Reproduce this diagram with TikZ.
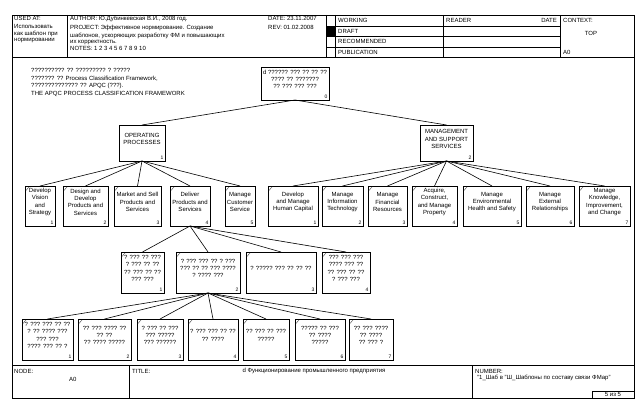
\documentclass[tikz,border=0pt]{standalone}
\usepackage{fontspec}
\setmainfont{Liberation Sans}
\tikzset{
  frame/.style={line width=0.7pt},
  boxst/.style={draw, line width=0.7pt, inner sep=0pt, outer sep=0pt, fill=white},
  txt/.style={font=\fontsize{6}{7.3}\selectfont, align=center, inner sep=0pt},
  numst/.style={font=\fontsize{5}{5}\selectfont, anchor=east, inner sep=0pt},
  tickst/.style={line width=0.4pt, black!70},
  link/.style={line width=0.6pt},
  hd/.style={font=\fontsize{6}{7}\selectfont, anchor=west, inner sep=0pt},
}
\newcommand\tbox[7]{%
  \node[boxst, minimum width={#4-#2}, minimum height={#5-#3}] (#1) at ({(#2+#4)/2},{(#3+#5)/2}) {};
  \node[txt] (#1t) at ([yshift=4pt]#1.center) {#6};
  \node[numst] (#1n) at ([xshift=-1.5pt,yshift=3.5pt]#1.south east) {#7};
}
\newcommand\cornertick[1]{\draw[tickst] ([xshift=1pt,yshift=-4.5pt]#1.north west) -- ([xshift=4pt,yshift=-1pt]#1.north west);}
\begin{document}
\begin{tikzpicture}[x=1pt,y=-1pt]
\useasboundingbox (0,0) rectangle (637,401);
\fill[white] (0,0) rectangle (637,401);
% frame
\draw[frame] (12,15) rectangle (634,398);
\draw[frame] (12,57) -- (634,57);
\draw[frame] (12,365) -- (634,365);
\draw[frame] (67,15) -- (67,57);
\draw[frame] (326,15) -- (326,57);
\draw[frame] (335,15) -- (335,57);
\draw[frame] (443,15) -- (443,57);
\draw[frame] (560,15) -- (560,57);
\draw[frame] (326,26) -- (560,26);
\draw[frame] (326,36.5) -- (560,36.5);
\draw[frame] (326,47) -- (560,47);
\fill (326,26) rectangle (335,36.5);
\draw[frame] (129,365) -- (129,398);
\draw[frame] (472,365) -- (472,398);
\draw[frame] (592,391) rectangle (634,398);
% header texts
\node[hd] (h1) at (14,18.5) {USED AT:};
\node[hd] (h2) at (14,26) {Использовать};
\node[hd] (h3) at (14,33.5) {как шаблон при};
\node[hd] (h4) at (14,41) {нормировании};
\node[hd] (h5) at (70,18.5) {AUTHOR: Ю.Дубинкевская В.И., 2008 год.};
\node[hd] (h6) at (70,27.5) {PROJECT: Эффективное нормирование. Создание};
\node[hd] (h7) at (70,35.5) {шаблонов, ускоряющих разработку ФМ и повышающих};
\node[hd] (h8) at (70,43) {их корректность.};
\node[hd] (h9) at (70,48.5) {NOTES: 1 2 3 4 5 6 7 8 9 10};
\node[hd] (h10) at (268,18.5) {DATE: 23.11.2007};
\node[hd] (h11) at (268,27.5) {REV: 01.02.2008};
\node[hd] (h12) at (338,20.5) {WORKING};
\node[hd] (h13) at (338,31.3) {DRAFT};
\node[hd] (h14) at (338,41.8) {RECOMMENDED};
\node[hd] (h15) at (338,52) {PUBLICATION};
\node[hd] (h16) at (446,20.5) {READER};
\node[hd, anchor=east] (h17) at (557,20.5) {DATE};
\node[hd] (h18) at (563,20.5) {CONTEXT:};
\node[hd, anchor=center] (h19) at (591,33) {TOP};
\node[hd] (h20) at (563,52) {A0};
% footer texts
\node[hd] (f1) at (14,371) {NODE:};
\node[hd] (f2) at (69,379) {A0};
\node[hd] (f3) at (132,371) {TITLE:};
\node[hd, anchor=center] (f4) at (314,371) {d Функционирование промышленного предприятия};
\node[hd] (f5) at (475,371) {NUMBER:};
\node[hd] (f6) at (477,378) {"1\_Шаб в "Ш\_Шаблоны по составу связи ФМар"};
\node[hd, anchor=center] (f7) at (613,394.5) {5 из 5};
% left text block
\node[hd, align=left, anchor=north west, font=\fontsize{6}{7.8}\selectfont] (lt) at (31,68) {?????????? ?? ????????? ? ?????\\??????? ?? Process Classification Framework,\\?????????????? ?? APQC (???).\\THE APQC PROCESS CLASSIFICATION FRAMEWORK};
% tree
\tbox{n0}{261}{67}{329}{100}{d ?????? ??? ?? ?? ??\\???? ?? ???????\\?? ??? ??? ???}{0}
\tbox{n1}{119}{125}{165}{161}{OPERATING\\PROCESSES}{1}
\tbox{n2}{420}{125}{473}{161}{MANAGEMENT\\AND SUPPORT\\SERVICES}{2}
\tbox{o1}{25}{186}{55}{226}{Develop\\Vision\\and\\Strategy}{1}
\tbox{o2}{63}{186}{108}{226}{Design and\\Develop\\Products and\\Services}{2}
\tbox{o3}{114}{186}{161}{226}{Market and Sell\\Products and\\Services}{3}
\tbox{o4}{170}{186}{210}{226}{Deliver\\Products and\\Services}{4}
\tbox{o5}{225}{186}{255}{226}{Manage\\Customer\\Service}{5}
\tbox{m1}{268}{186}{318}{226}{Develop\\and Manage\\Human Capital}{1}
\tbox{m2}{322}{186}{363}{226}{Manage\\Information\\Technology}{2}
\tbox{m3}{368}{186}{407}{226}{Manage\\Financial\\Resources}{3}
\tbox{m4}{412}{186}{457}{226}{Acquire,\\Construct,\\and Manage\\Property}{4}
\tbox{m5}{463}{186}{521}{226}{Manage\\Environmental\\Health and Safety}{5}
\tbox{m6}{526}{186}{574}{226}{Manage\\External\\Relationships}{6}
\tbox{m7}{579}{186}{630}{226}{Manage\\Knowledge,\\Improvement,\\and Change}{7}
\tbox{p1}{121}{252}{164}{293}{? ??? ?? ???\\? ??? ?? ??\\?? ??? ?? ??\\??? ???}{1}
\tbox{p2}{176}{252}{240}{293}{? ??? ??? ?? ? ???\\??? ?? ?? ??? ????\\? ???? ???}{2}
\tbox{p3}{246}{252}{316}{293}{? ????? ??? ?? ?? ??}{3}
\tbox{p4}{322}{252}{370}{293}{??? ??? ???\\???? ??? ??\\?? ??? ?? ??\\? ??? ???}{4}
\tbox{q1}{22}{319}{73}{360}{? ??? ??? ?? ??\\? ?? ???? ???\\??? ???\\???? ??? ?? ?}{1}
\tbox{q2}{78}{319}{131}{360}{?? ??? ???? ??\\?? ??\\?? ???? ?????}{2}
\tbox{q3}{137}{319}{183}{360}{? ??? ?? ???\\??? ?????\\??? ??????}{3}
\tbox{q4}{188}{319}{238}{360}{? ??? ??? ?? ??\\?? ????}{4}
\tbox{q5}{243}{319}{289}{360}{?? ??? ?? ???\\?????}{5}
\tbox{q6}{295}{319}{345}{360}{????? ?? ???\\?? ????\\?????}{6}
\tbox{q7}{349}{319}{393}{360}{?? ??? ????\\?? ????\\?? ??? ?}{7}
\foreach \b in {o1,o2,o3,o4,o5,m1,m2,m3,m4,m5,m6,m7,p1,p2,p3,p4,q1,q2,q3,q4,q5,q6,q7} {\cornertick{\b}}
% connectors
\draw[link] (n0.south) -- (n1.north);
\draw[link] (n0.south) -- (n2.north);
\foreach \c in {o1,o2,o3,o4,o5} {\draw[link] (n1.south) -- (\c.north);}
\foreach \c in {m1,m2,m3,m4,m5,m6,m7} {\draw[link] (n2.south) -- (\c.north);}
\foreach \c in {p1,p2,p3,p4} {\draw[link] (o4.south) -- (\c.north);}
\foreach \c in {q1,q2,q3,q4,q5,q6,q7} {\draw[link] (p2.south) -- (\c.north);}
\end{tikzpicture}
\end{document}
